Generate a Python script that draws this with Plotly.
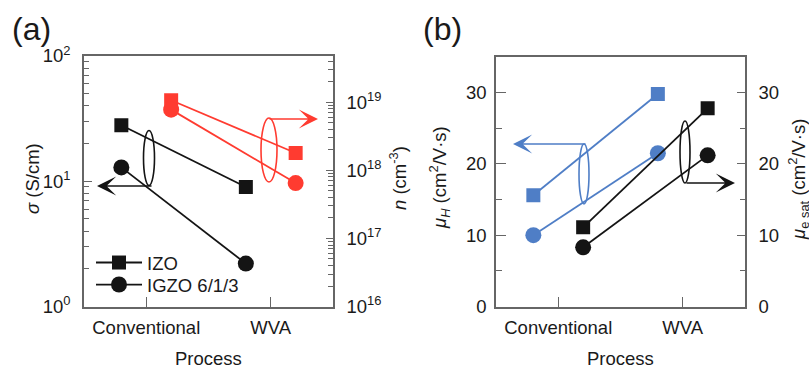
import plotly.graph_objects as go

# ---------------- data ----------------
categories = ["Conventional", "WVA"]
sigma_izo = [28.0, 9.0]          # S/cm
sigma_igzo = [12.9, 2.2]
n_izo = [1.07e19, 1.8e18]        # cm^-3
n_igzo = [7.8e18, 6.5e17]
muH_izo = [15.6, 29.8]           # cm2/Vs
muH_igzo = [10.0, 21.5]
musat_izo = [11.1, 27.8]
musat_igzo = [8.3, 21.2]

# ---------------- style ----------------
W, H = 809, 368
FONT = "Liberation Sans, Arial, sans-serif"
FS = 18.5
BLACK = "#141414"
RED = "#ff3b30"
BLUE = "#4f7ec6"
AXC = "#666666"
OFF = 0.2

idx = list(range(len(categories)))
x_left = [i - OFF for i in idx]
x_right = [i + OFF for i in idx]


def px(x):
    return x / W


def py(y):
    return 1 - y / H


def series(x, y, color, symbol, xa, ya, name=None, legend=None):
    kw = dict(showlegend=legend is not None)
    if legend is not None:
        kw["legend"] = legend
    return go.Scatter(
        x=x, y=y, mode="lines+markers", name=name,
        xaxis=xa, yaxis=ya,
        line=dict(color=color, width=1.8),
        marker=dict(color=color, symbol=symbol, size=14 if symbol == "square" else 16,
                    line=dict(width=0)),
        **kw,
    )


fig = go.Figure()
# panel (a)
fig.add_trace(series(x_right, n_izo, RED, "square", "x", "y2"))
fig.add_trace(series(x_right, n_igzo, RED, "circle", "x", "y2"))
fig.add_trace(series(x_left, sigma_izo, BLACK, "square", "x", "y", "IZO", "legend"))
fig.add_trace(series(x_left, sigma_igzo, BLACK, "circle", "x", "y", "IGZO 6/1/3", "legend2"))
# panel (b)
fig.add_trace(series(x_left, muH_izo, BLUE, "square", "x2", "y3"))
fig.add_trace(series(x_left, muH_igzo, BLUE, "circle", "x2", "y3"))
fig.add_trace(series(x_right, musat_izo, BLACK, "square", "x2", "y4"))
fig.add_trace(series(x_right, musat_igzo, BLACK, "circle", "x2", "y4"))

tickfont = dict(family=FONT, size=FS, color="#1a1a1a")
dom_a_x = [px(84), px(333)]
dom_b_x = [px(496), px(745)]
dom_a_y = [py(306.5), py(56)]
dom_b_y = [py(306.5), py(57)]

xcommon = dict(range=[-0.5, 1.5], tickmode="array", tickvals=idx, ticktext=categories,
               ticks="inside", ticklen=10, tickwidth=1.2, tickcolor=AXC,
               showline=True, linecolor=AXC, linewidth=1.5, mirror=True, automargin=False,
               showgrid=False, zeroline=False, tickfont=tickfont, ticklabelstandoff=4)

log_minor_a = [k * 10 ** e for e in (0, 1) for k in range(2, 10)]
log_minor_n = [k * 10 ** e for e in (16, 17, 18) for k in range(2, 10)] + [2e19, 3e19, 4e19]

legend_common = dict(xanchor="left", yanchor="middle", bgcolor="rgba(0,0,0,0)",
                     font=dict(family=FONT, size=FS), itemwidth=46)

fig.update_layout(
    width=W, height=H, margin=dict(l=0, r=0, t=0, b=0, pad=0, autoexpand=False),
    paper_bgcolor="white", plot_bgcolor="white",
    font=dict(family=FONT, size=FS, color="#1a1a1a"),
    xaxis=dict(domain=dom_a_x, anchor="y", **xcommon),
    xaxis2=dict(domain=dom_b_x, anchor="y3", **xcommon),
    yaxis=dict(domain=dom_a_y, anchor="x", type="log", range=[0, 2],
               tickmode="array", tickvals=[1, 10, 100],
               ticktext=["10<sup>0</sup>", "10<sup>1</sup>", "10<sup>2</sup>"],
               ticks="inside", ticklen=8, tickwidth=1.2, tickcolor=AXC,
               minor=dict(tickmode="array", tickvals=log_minor_a, ticks="inside",
                          ticklen=5, tickwidth=1.2, tickcolor=AXC),
               showline=True, linecolor=AXC, linewidth=1.5, automargin=False,
               showgrid=False, zeroline=False, tickfont=tickfont, ticklabelstandoff=8),
    yaxis2=dict(domain=dom_a_y, anchor="x", overlaying="y", side="right", type="log",
                range=[16, 19.68], tickmode="array", tickvals=[1e16, 1e17, 1e18, 1e19],
                ticktext=["10<sup>16</sup>", "10<sup>17</sup>", "10<sup>18</sup>", "10<sup>19</sup>"],
                ticks="inside", ticklen=7, tickwidth=1.2, tickcolor=AXC,
                minor=dict(tickmode="array", tickvals=log_minor_n, ticks="inside",
                           ticklen=5, tickwidth=1.2, tickcolor=AXC),
                showline=True, linecolor=AXC, linewidth=1.5, automargin=False,
                showgrid=False, zeroline=False, tickfont=tickfont, ticklabelstandoff=8),
    yaxis3=dict(domain=dom_b_y, anchor="x2", range=[0, 35], tickmode="array",
                tickvals=[0, 10, 20, 30], ticks="inside", ticklen=10, tickwidth=1.2, tickcolor=AXC,
                minor=dict(tickmode="array", tickvals=[5, 15, 25], ticks="inside",
                           ticklen=6, tickwidth=1.2, tickcolor=AXC),
                showline=True, linecolor=AXC, linewidth=1.5, automargin=False,
                showgrid=False, zeroline=False, tickfont=tickfont, ticklabelstandoff=4),
    yaxis4=dict(domain=dom_b_y, anchor="x2", overlaying="y3", side="right", range=[0, 35],
                tickmode="array", tickvals=[0, 10, 20, 30], ticks="inside", ticklen=8,
                tickwidth=1.2, tickcolor=AXC,
                minor=dict(tickmode="array", tickvals=[5, 15, 25], ticks="inside",
                           ticklen=5, tickwidth=1.2, tickcolor=AXC),
                showline=True, linecolor=AXC, linewidth=1.5, automargin=False,
                showgrid=False, zeroline=False, tickfont=tickfont, ticklabelstandoff=8),
    legend=dict(x=px(91), y=py(263), **legend_common),
    legend2=dict(x=px(91), y=py(285), **legend_common),
)

# ---------------- texts ----------------
texts = [
    ("(a)", 32, 29, 0, 32),
    ("(b)", 442, 29, 0, 32),
    ("Process", 208, 358, 0, FS),
    ("Process", 620, 358, 0, FS),
    ("<i>σ</i> (S/cm)", 32, 178, -90, FS),
    ("<i>n</i> (cm<sup>-3</sup>)", 398, 178, -90, FS),
    ("<i>μ</i><sub><i>H</i></sub> (cm<sup>2</sup>/V·s)", 439, 178, -90, FS),
    ("<i>μ</i><sub>e sat</sub> (cm<sup>2</sup>/V·s)", 799, 180, -90, FS),
]
for t, x, y, ang, s in texts:
    fig.add_annotation(text=t, x=px(x), y=py(y), xref="paper", yref="paper",
                       showarrow=False, textangle=ang, xanchor="center", yanchor="middle",
                       font=dict(family=FONT, size=s, color="#1a1a1a"))

# ---------------- loops & arrows ----------------
loops = [  # cx, cy, half-w, half-h, color
    (149, 158, 5.5, 27.5, BLACK),
    (269, 150, 8, 32, RED),
    (584, 174, 5, 30, BLUE),
    (685, 152, 5, 31, BLACK),
]
for cx, cy, hw, hh, c in loops:
    fig.add_shape(type="circle", xref="paper", yref="paper",
                  x0=px(cx - hw), x1=px(cx + hw), y0=py(cy + hh), y1=py(cy - hh),
                  line=dict(color=c, width=1.6))

arrows = [  # tail_x, tail_y, head_x, head_y, color
    (153, 186, 97, 186, BLACK),
    (268, 119, 318, 119, RED),
    (587, 144, 513, 144, BLUE),
    (685, 183, 735, 183, BLACK),
]
for tx, ty, hx, hy, c in arrows:
    fig.add_annotation(x=px(hx), y=py(hy), xref="paper", yref="paper",
                       ax=tx - hx, ay=ty - hy, axref="pixel", ayref="pixel",
                       text="", showarrow=True, arrowhead=3, arrowsize=2.0,
                       arrowwidth=1.6, arrowcolor=c, standoff=0, startstandoff=0)

fig.write_html("out.html")
